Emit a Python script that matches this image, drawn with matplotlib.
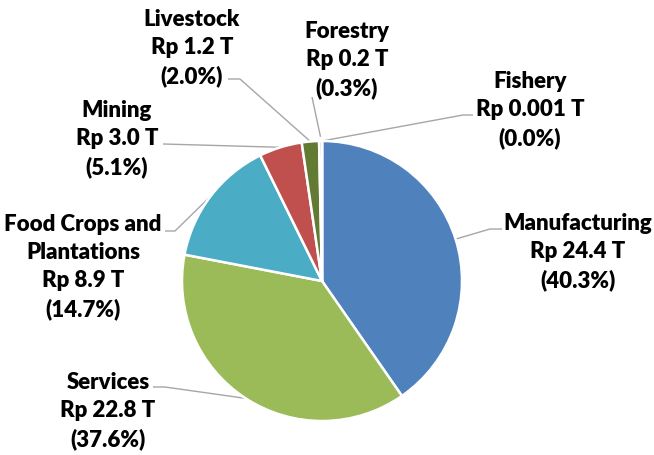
import matplotlib
matplotlib.use("Agg")
import matplotlib.pyplot as plt
import numpy as np

# sector values (Rp trillion) and label text
sectors = ["Manufacturing", "Services", "Food Crops and\nPlantations", "Mining",
           "Livestock", "Forestry", "Fishery"]
values = [24.4, 22.8, 8.9, 3.0, 1.2, 0.2, 0.001]
value_txt = ["Rp 24.4 T", "Rp 22.8 T", "Rp 8.9 T", "Rp 3.0 T", "Rp 1.2 T", "Rp 0.2 T", "Rp 0.001 T"]
pct_txt = ["(40.3%)", "(37.6%)", "(14.7%)", "(5.1%)", "(2.0%)", "(0.3%)", "(0.0%)"]
colors = ["#4F81BD", "#9BBB59", "#4BACC6", "#C0504D", "#637A32", "#8064A2", "#F79646"]

# layout in pixels: label block centre, and leader elbow / end
label_pos = [(578, 252), (108, 411), (83, 267), (117, 139), (192, 48), (347, 60), (530, 110)]
leader_pts = [
    [(490, 230), (502, 230)],
    [(165, 388), (153, 388)],
    [(175, 232), (165, 232)],
    [(163, 145)],
    [(240, 80), (228, 80)],
    [(312, 98)],
    [(463, 116), (473, 116)],
]
leader_r = [1.0, 1.0, 1.0, 1.0, 1.0, 1.03, 1.0]

CX, CY, R = 322, 282, 140


def px(x, y):
    return (x - CX) / R, (CY - y) / R


plt.rcParams['font.family'] = ['Lato', 'DejaVu Sans']

fig = plt.figure(figsize=(6.54, 4.56), dpi=100)
ax = fig.add_axes([0, 0, 1, 1])

wedges, _ = ax.pie(values, colors=colors, startangle=90, counterclock=False,
                   wedgeprops=dict(edgecolor="white", linewidth=1.8))

for i, w in enumerate(wedges):
    ang = np.deg2rad((w.theta1 + w.theta2) / 2)
    r = leader_r[i]
    xs = [r * np.cos(ang)] + [px(*p)[0] for p in leader_pts[i]]
    ys = [r * np.sin(ang)] + [px(*p)[1] for p in leader_pts[i]]
    ax.plot(xs, ys, color="#A6A6A6", lw=1.0, solid_capstyle="butt", zorder=0)
    lx, ly = px(*label_pos[i])
    ax.text(lx, ly, sectors[i] + "\n" + value_txt[i] + "\n" + pct_txt[i],
            ha="center", va="center", fontsize=16, fontweight="heavy",
            linespacing=1.42, color="black")

ax.set_xlim(px(0, 0)[0], px(654, 0)[0])
ax.set_ylim(px(0, 456)[1], px(0, 0)[1])
ax.set_aspect("auto")
ax.axis("off")

fig.savefig("out.png", dpi=100)
